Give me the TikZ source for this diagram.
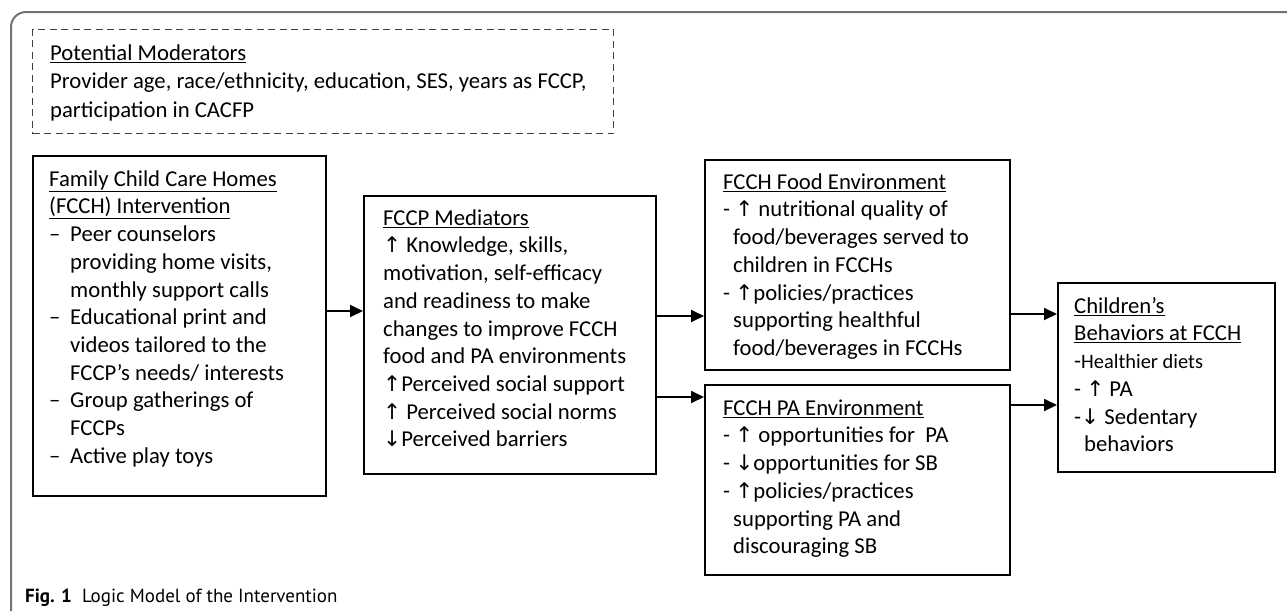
\documentclass[tikz,border=0pt]{standalone}
\usepackage{fontspec}
\setmainfont{Carlito}
\newfontfamily\arrowfont{DejaVu Sans}[Scale=0.95]
\newfontfamily\capfont{PT Sans}
\usetikzlibrary{arrows.meta,positioning}

% small arrows used in the lists
\newcommand{\uparr}{{\arrowfont ↑}}
\newcommand{\dnarr}{{\arrowfont ↓}}
% list entry with a hanging dash
\newcommand{\itm}{\makebox[21pt][l]{–}}
\newcommand{\ind}[1][21pt]{\hspace*{#1}}
% fixes the height of the first line of a box text
\newcommand{\tstrut}{\rule{0pt}{18pt}}

\tikzset{
  box/.style={draw, line width=1.6pt, anchor=north west, inner sep=0pt},
  dashbox/.style={draw=black!75, line width=1.3pt, dash pattern=on 7pt off 4.5pt, anchor=north west, inner sep=0pt},
  txt/.style={anchor=north west, inner sep=0pt, align=left,
    font=\fontsize{22.7}{27.7}\selectfont},
  arrow/.style={line width=1.8pt, -{Triangle[length=13pt,width=12pt]}},
  frame/.style={draw=black!55, line width=2pt, rounded corners=15pt}
}

\begin{document}
\begin{tikzpicture}[x=1pt, y=-1pt]
    \useasboundingbox (0,0) rectangle (1287,611);

    % outer frame, open at the right and bottom
    \draw[frame] (1287,12) -- (11,12) -- (11,611);

    % moderators
    \node[dashbox, minimum width=581pt, minimum height=104pt] (mod) at (32,29) {};
    \node[txt, font=\fontsize{22.7}{28.5}\selectfont, below right=13pt and 18pt of mod.north west] (modtxt) {%
        \tstrut\underline{Potential Moderators}\\
        Provider age, race/ethnicity, education, SES, years as FCCP,\\
        participation in CACFP};

    % boxes
    \node[box, minimum width=293pt, minimum height=340pt] (interv) at (32,155) {};
    \node[box, minimum width=292pt, minimum height=278pt] (med) at (363,195) {};
    \node[box, minimum width=305pt, minimum height=210pt] (food) at (704,159) {};
    \node[box, minimum width=305pt, minimum height=190pt] (pa) at (704,384) {};
    \node[box, minimum width=217pt, minimum height=189pt] (child) at (1057,282) {};

    % box texts
    \node[txt, below right=13pt and 17pt of interv.north west] (intervtxt) {%
        \tstrut\underline{Family Child Care Homes}\\
        \underline{(FCCH) Intervention}\\
        \itm Peer counselors\\
        \ind providing home visits,\\
        \ind monthly support calls\\
        \itm Educational print and\\
        \ind videos tailored to the\\
        \ind FCCP’s needs/ interests\\
        \itm Group gatherings of\\
        \ind FCCPs\\
        \itm Active play toys};

    \node[txt, below right=12pt and 20pt of med.north west] (medtxt) {%
        \tstrut\underline{FCCP Mediators}\\
        \uparr{} Knowledge, skills,\\
        motivation, self-efficacy\\
        and readiness to make\\
        changes to improve FCCH\\
        food and PA environments\\
        \uparr Perceived social support\\
        \uparr{} Perceived social norms\\
        \dnarr Perceived barriers};

    \node[txt, below right=12pt and 19pt of food.north west] (foodtxt) {%
        \tstrut\underline{FCCH Food Environment}\\
        - \uparr{} nutritional quality of\\
        \ind[10pt]food/beverages served to\\
        \ind[10pt]children in FCCHs\\
        - \uparr policies/practices\\
        \ind[10pt]supporting healthful\\
        \ind[10pt]food/beverages in FCCHs};

    \node[txt, below right=13pt and 19pt of pa.north west] (patxt) {%
        \tstrut\underline{FCCH PA Environment}\\
        - \uparr{} opportunities for~~PA\\
        - \dnarr opportunities for SB\\
        - \uparr policies/practices\\
        \ind[10pt]supporting PA and\\
        \ind[10pt]discouraging SB};

    \node[txt, below right=13pt and 17pt of child.north west] (childtxt) {%
        \tstrut\underline{Children’s}\\
        \underline{Behaviors at FCCH}\\
        -\scalebox{0.9}{Healthier diets}\\
        - \uparr{} PA\\
        -\dnarr{} Sedentary\\
        \ind[10pt]behaviors};

    % connectors
    \draw[arrow] (interv.east |- 0,311) -- (med.west |- 0,311);
    \draw[arrow] (med.east |- 0,316) -- (food.west |- 0,316);
    \draw[arrow] (med.east |- 0,397) -- (pa.west |- 0,397);
    \draw[arrow] (food.east |- 0,314) -- (child.west |- 0,314);
    \draw[arrow] (pa.east |- 0,405) -- (child.west |- 0,405);

    % caption
    \node[anchor=base west, inner sep=0pt, font=\capfont\fontsize{19}{22}\selectfont] (cap) at (25,602)
        {\textbf{Fig. 1}\hspace{10pt}Logic Model of the Intervention};
\end{tikzpicture}
\end{document}
